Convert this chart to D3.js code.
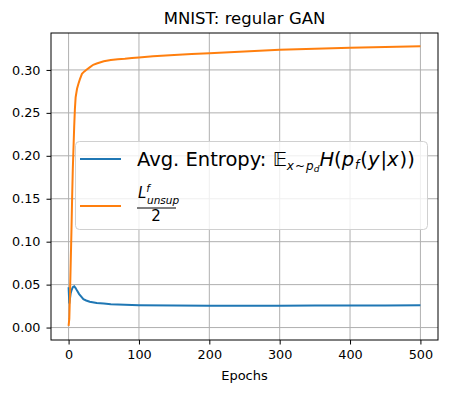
<!DOCTYPE html>
<html>
<head>
<meta charset="utf-8">
<script src="https://cdn.jsdelivr.net/npm/d3@7"></script>
<style>
  body { margin: 0; background: #fff; }
  text { font-family: "DejaVu Sans", sans-serif; fill: #000; }
</style>
</head>
<body>
<svg id="chart" width="451" height="393"></svg>
<script>
// avg entropy curve (blue)
const entropyEpochs = [0, 1, 2, 3, 4, 5, 6, 8, 10, 12, 15, 18, 21, 25, 30, 40, 50, 60, 80, 100, 150, 200, 250, 300, 350, 400, 450, 500];
const entropyValues = [0.047, 0.028, 0.034, 0.040, 0.043, 0.045, 0.047, 0.048, 0.046, 0.043, 0.039, 0.036, 0.033, 0.0315, 0.030, 0.0285, 0.028, 0.0272, 0.0265, 0.026, 0.0256, 0.0253, 0.0254, 0.0255, 0.0256, 0.0257, 0.0258, 0.026];

// L_unsup / 2 curve (orange)
const unsupEpochs = [0, 1, 2, 3, 4, 5, 6, 7, 8, 9, 10, 12, 14, 16, 19, 22, 25, 30, 35, 40, 50, 60, 70, 80, 90, 100, 120, 150, 175, 200, 250, 300, 350, 400, 450, 500];
const unsupValues = [0.002, 0.01, 0.04, 0.075, 0.11, 0.15, 0.185, 0.21, 0.235, 0.255, 0.268, 0.278, 0.284, 0.289, 0.2955, 0.298, 0.300, 0.303, 0.306, 0.3075, 0.310, 0.3115, 0.3125, 0.313, 0.3138, 0.3145, 0.3158, 0.3175, 0.3185, 0.3195, 0.3215, 0.3235, 0.3248, 0.3258, 0.3268, 0.3277];

const xTicks = [0, 100, 200, 300, 400, 500];
const yTicks = [0.00, 0.05, 0.10, 0.15, 0.20, 0.25, 0.30];

const svg = d3.select("#chart");
const plotLeft = 51, plotRight = 438, plotTop = 33, plotBottom = 340;

const x = d3.scaleLinear().domain([-25, 525]).range([plotLeft, plotRight]);
const y = d3.scaleLinear().domain([-0.0145, 0.343]).range([plotBottom, plotTop]);

// grid
svg.append("g")
    .selectAll("line")
    .data(xTicks)
    .join("line")
    .attr("x1", d => x(d)).attr("x2", d => x(d))
    .attr("y1", plotTop).attr("y2", plotBottom)
    .attr("stroke", "#b0b0b0").attr("stroke-width", 1);
svg.append("g")
    .selectAll("line")
    .data(yTicks)
    .join("line")
    .attr("x1", plotLeft).attr("x2", plotRight)
    .attr("y1", d => y(d)).attr("y2", d => y(d))
    .attr("stroke", "#b0b0b0").attr("stroke-width", 1);

// axes
const xAxis = svg.append("g")
    .attr("transform", `translate(0,${plotBottom})`)
    .call(d3.axisBottom(x).tickValues(xTicks).tickFormat(d3.format("d")).tickSize(4.5).tickPadding(5));
const yAxis = svg.append("g")
    .attr("transform", `translate(${plotLeft},0)`)
    .call(d3.axisLeft(y).tickValues(yTicks).tickFormat(d3.format(".2f")).tickSize(4.5).tickPadding(6));
[xAxis, yAxis].forEach(a => {
    a.select(".domain").remove();
    a.selectAll("text").style("font-family", "DejaVu Sans").style("font-size", "12.8px").attr("fill", "#000");
    a.selectAll(".tick line").attr("stroke", "#000").attr("stroke-width", 1);
});

// lines
const line = d3.line().x(d => x(d[0])).y(d => y(d[1]));
svg.append("path")
    .datum(d3.zip(entropyEpochs, entropyValues))
    .attr("d", line)
    .attr("fill", "none").attr("stroke", "#1f77b4").attr("stroke-width", 2);
svg.append("path")
    .datum(d3.zip(unsupEpochs, unsupValues))
    .attr("d", line)
    .attr("fill", "none").attr("stroke", "#ff7f0e").attr("stroke-width", 2);

// frame
svg.append("rect")
    .attr("x", plotLeft).attr("y", plotTop)
    .attr("width", plotRight - plotLeft).attr("height", plotBottom - plotTop)
    .attr("fill", "none").attr("stroke", "#000").attr("stroke-width", 1);

// title and x label
svg.append("text")
    .attr("x", (plotLeft + plotRight) / 2).attr("y", 24)
    .attr("text-anchor", "middle")
    .style("font-size", "16.5px")
    .text("MNIST: regular GAN");
svg.append("text")
    .attr("x", (plotLeft + plotRight) / 2).attr("y", 380)
    .attr("text-anchor", "middle")
    .style("font-size", "13px")
    .text("Epochs");

// legend
const legend = svg.append("g");
legend.append("rect")
    .attr("x", 75.5).attr("y", 141.5)
    .attr("width", 352).attr("height", 88)
    .attr("rx", 4)
    .attr("fill", "#fff").attr("fill-opacity", 0.8)
    .attr("stroke", "#d0d0d0").attr("stroke-width", 1);
legend.append("line")
    .attr("x1", 80).attr("x2", 121).attr("y1", 159).attr("y2", 159)
    .attr("stroke", "#1f77b4").attr("stroke-width", 2);
legend.append("line")
    .attr("x1", 80).attr("x2", 121).attr("y1", 206).attr("y2", 206)
    .attr("stroke", "#ff7f0e").attr("stroke-width", 2);

const t1 = legend.append("text")
    .attr("x", 137).attr("y", 166)
    .style("font-size", "19.5px");
t1.append("tspan").text("Avg. Entropy: ");
t1.append("tspan").text("\u{1D53C}");
t1.append("tspan").attr("dy", 4).style("font-size", "12px").style("font-style", "italic").text("x");
t1.append("tspan").attr("dx", 1).style("font-size", "12px").text("~");
t1.append("tspan").attr("dx", 1).style("font-size", "12px").style("font-style", "italic").text("p");
t1.append("tspan").attr("dy", 2).style("font-size", "9px").style("font-style", "italic").text("d");
t1.append("tspan").attr("dy", -6).style("font-style", "italic").text("H");
t1.append("tspan").text("(");
t1.append("tspan").style("font-style", "italic").text("p");
t1.append("tspan").attr("dx", 1).attr("dy", 3).style("font-size", "12px").style("font-style", "italic").text("f");
t1.append("tspan").attr("dx", 1).attr("dy", -3).text("(");
t1.append("tspan").style("font-style", "italic").text("y");
t1.append("tspan").attr("dx", 1).text("|");
t1.append("tspan").style("font-style", "italic").text("x");
t1.append("tspan").attr("dx", 1).text("))");

const t2 = legend.append("text")
    .attr("x", 138).attr("y", 198)
    .style("font-size", "15px")
    .style("font-style", "italic");
t2.append("tspan").text("L");
t2.append("tspan").attr("dy", -6).style("font-size", "10.5px").text("f");
t2.append("tspan").attr("dx", -3).attr("dy", 12).style("font-size", "10.5px").text("unsup");
legend.append("line")
    .attr("x1", 137).attr("x2", 176).attr("y1", 208).attr("y2", 208)
    .attr("stroke", "#000").attr("stroke-width", 1);
legend.append("text")
    .attr("x", 156).attr("y", 221)
    .attr("text-anchor", "middle")
    .style("font-size", "15px")
    .text("2");
</script>
</body>
</html>
